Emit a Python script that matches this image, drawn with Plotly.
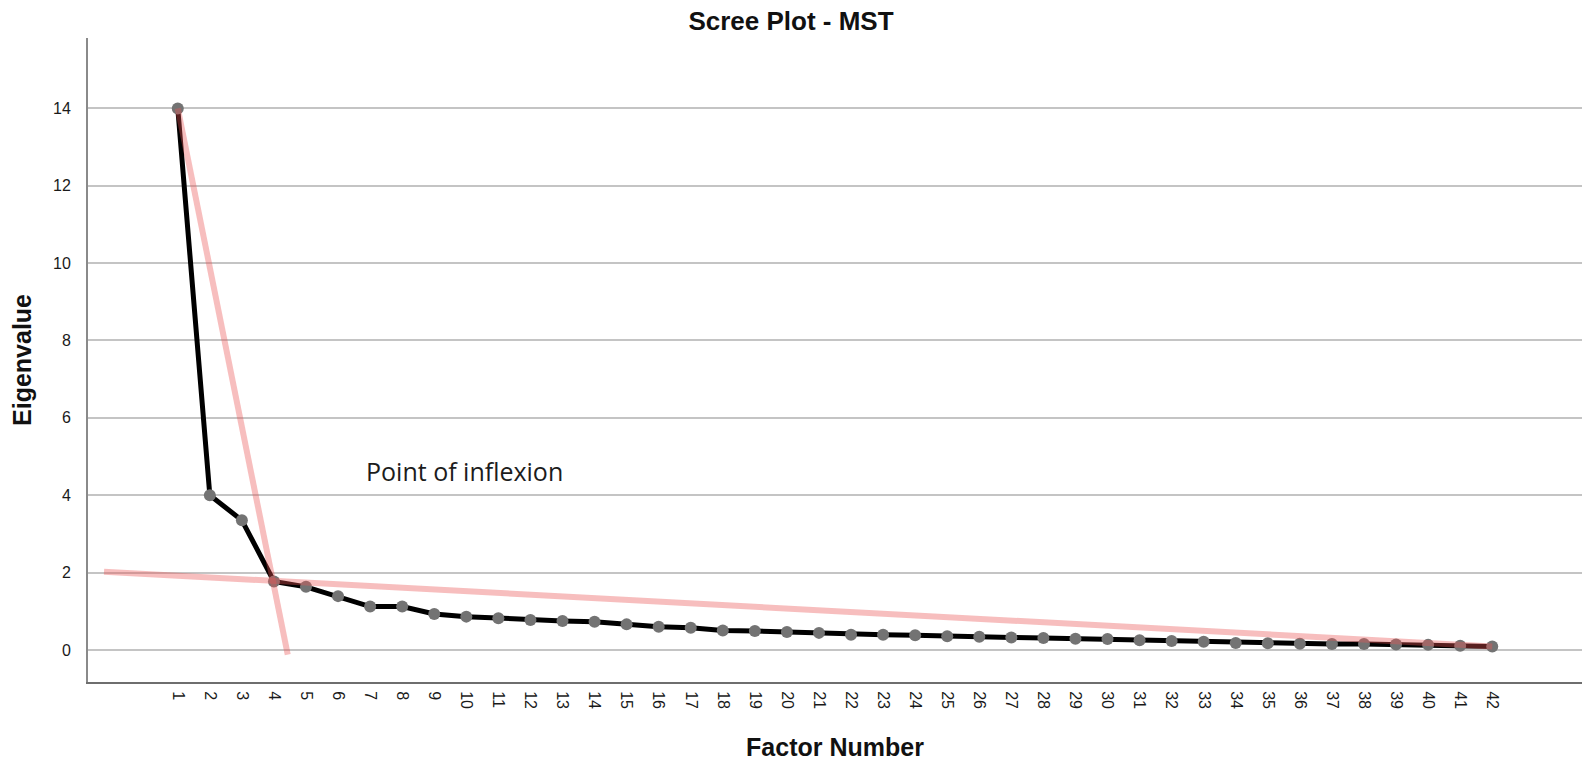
import plotly.graph_objects as go

# ---- data ----
factor_number = list(range(1, 43))
eigenvalues = [14.00, 4.00, 3.35, 1.77, 1.63, 1.39, 1.12, 1.12, 0.93, 0.86,
               0.82, 0.77, 0.75, 0.73, 0.66, 0.60, 0.57, 0.50, 0.49, 0.46,
               0.44, 0.39, 0.39, 0.38, 0.35, 0.34, 0.32, 0.31, 0.29, 0.28,
               0.25, 0.23, 0.21, 0.18, 0.17, 0.16, 0.15, 0.15, 0.14, 0.13,
               0.11, 0.09]

# hand-drawn guide lines (steep part and flat part of the scree)
steep_x = [1.0, 4.43]
steep_y = [14.0, -0.12]
flat_x = [-1.30, 42.0]
flat_y = [2.02, 0.09]

y_ticks = [0, 2, 4, 6, 8, 10, 12, 14]
annotation_text = "Point of inflexion"
annotation_x = 6.82
annotation_y = 4.63

FONT = "Arial, Liberation Sans, sans-serif"
guide_color = "rgba(235,85,85,0.38)"

fig = go.Figure()
fig.add_trace(go.Scatter(
    x=factor_number, y=eigenvalues, mode="lines+markers",
    line=dict(color="#000000", width=5),
    marker=dict(color="#737373", size=12),
    showlegend=False, hoverinfo="x+y"))
fig.add_trace(go.Scatter(
    x=steep_x, y=steep_y, mode="lines",
    line=dict(color=guide_color, width=6),
    showlegend=False, hoverinfo="skip"))
fig.add_trace(go.Scatter(
    x=flat_x, y=flat_y, mode="lines",
    line=dict(color=guide_color, width=6),
    showlegend=False, hoverinfo="skip"))

fig.add_annotation(
    x=annotation_x, y=annotation_y, xref="x", yref="y",
    text=annotation_text, showarrow=False,
    xanchor="left", yanchor="middle",
    font=dict(family="Open Sans, Noto Sans, sans-serif", size=25, color="#1c1c1c"))

fig.update_layout(
    width=1582, height=768,
    margin=dict(l=88, r=0, t=38, b=86, autoexpand=False),
    paper_bgcolor="white", plot_bgcolor="white",
    font=dict(family=FONT, color="#1a1a1a"),
    title=dict(text="Scree Plot - MST", x=0.5, xanchor="center",
               y=1 - 21 / 768, yanchor="middle", yref="container",
               font=dict(family=FONT, size=26, color="#111111", weight="bold")),
    xaxis=dict(
        range=[-1.80, 44.8], tickmode="array", tickvals=factor_number,
        ticktext=[str(v) for v in factor_number], tickangle=90,
        tickfont=dict(family=FONT, size=16, color="#1a1a1a"),
        showgrid=False, zeroline=False, showline=True,
        linecolor="#6e6e6e", linewidth=2, ticks="", ticklabelstandoff=4,
        title=dict(text="Factor Number", standoff=30,
                   font=dict(family=FONT, size=25, color="#111111", weight="bold"))),
    yaxis=dict(
        range=[-0.83, 15.82], tickmode="array", tickvals=y_ticks,
        tickfont=dict(family=FONT, size=16, color="#1a1a1a"),
        showgrid=True, gridcolor="#c4c4c4", gridwidth=1.5,
        zeroline=False, showline=True, linecolor="#8a8a8a", linewidth=2,
        ticks="", ticklabelstandoff=12,
        title=dict(text="Eigenvalue", standoff=14,
                   font=dict(family=FONT, size=25, color="#111111", weight="bold"))),
)

fig.write_html("out.html",
               config={"displayModeBar": False},
               post_script="document.body.style.margin='0';document.body.style.overflow='hidden';")
